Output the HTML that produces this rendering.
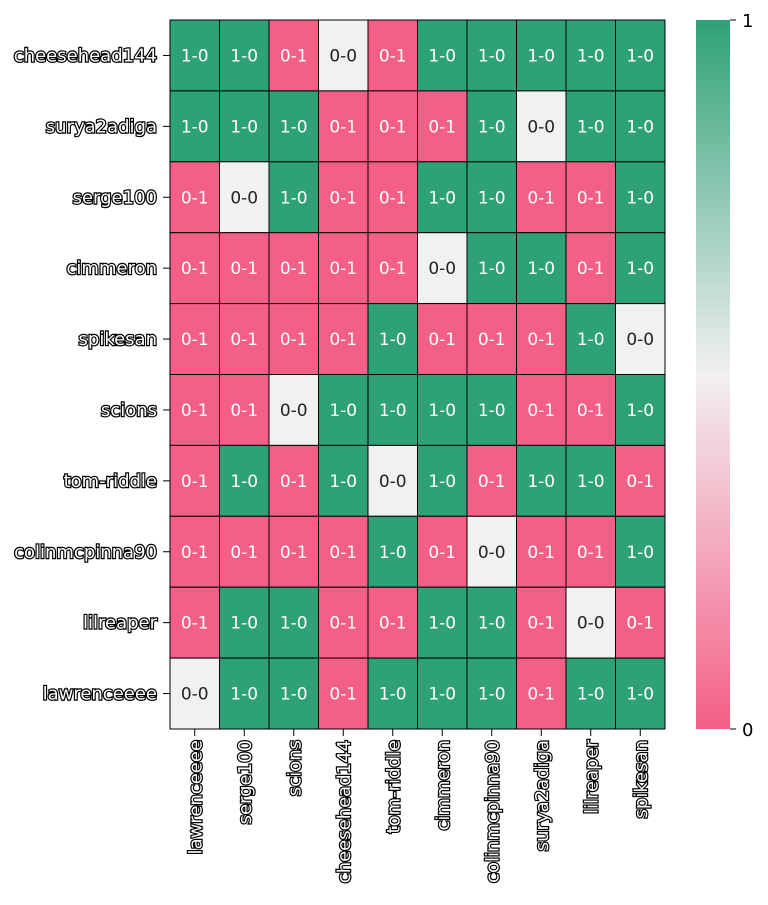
<!DOCTYPE html>
<html><head><meta charset="utf-8"><style>
body{margin:0;background:#fff}
svg text{font-family:"DejaVu Sans","Liberation Sans",sans-serif}
.lbl{fill:#fff;stroke:#000;stroke-width:2.4px;paint-order:stroke;font-size:18px}
</style></head><body>
<svg id="chart" width="768" height="900" xmlns="http://www.w3.org/2000/svg">
<defs><linearGradient id="cb" x1="0" y1="1" x2="0" y2="0">
<stop offset="0" stop-color="#f45f87"/><stop offset="0.5" stop-color="#f2f0f1"/><stop offset="1" stop-color="#2ea176"/></linearGradient></defs>
<g id="cells"></g>
<g id="ylabels"></g>
<g id="xlabels"></g>
<rect x="696" y="20" width="34" height="709" fill="url(#cb)"/>
<line x1="730" y1="20" x2="736" y2="20" stroke="#000"/>
<line x1="730" y1="729" x2="736" y2="729" stroke="#000"/>
<text x="742" y="27" font-size="18">1</text>
<text x="742" y="736" font-size="18">0</text>
</svg>
<script>
const rowLabels=["cheesehead144","surya2adiga","serge100","cimmeron","spikesan","scions","tom-riddle","colinmcpinna90","lilreaper","lawrenceeee"];
const colLabels=["lawrenceeee","serge100","scions","cheesehead144","tom-riddle","cimmeron","colinmcpinna90","surya2adiga","lilreaper","spikesan"];
const results=[
["1-0","1-0","0-1","0-0","0-1","1-0","1-0","1-0","1-0","1-0"],
["1-0","1-0","1-0","0-1","0-1","0-1","1-0","0-0","1-0","1-0"],
["0-1","0-0","1-0","0-1","0-1","1-0","1-0","0-1","0-1","1-0"],
["0-1","0-1","0-1","0-1","0-1","0-0","1-0","1-0","0-1","1-0"],
["0-1","0-1","0-1","0-1","1-0","0-1","0-1","0-1","1-0","0-0"],
["0-1","0-1","0-0","1-0","1-0","1-0","1-0","0-1","0-1","1-0"],
["0-1","1-0","0-1","1-0","0-0","1-0","0-1","1-0","1-0","0-1"],
["0-1","0-1","0-1","0-1","1-0","0-1","0-0","0-1","0-1","1-0"],
["0-1","1-0","1-0","0-1","0-1","1-0","1-0","0-1","0-0","0-1"],
["0-0","1-0","1-0","0-1","1-0","1-0","1-0","0-1","1-0","1-0"]];
const NS="http://www.w3.org/2000/svg";
const L=170,R=665,T=20,B=729;
const cw=(R-L)/colLabels.length, ch=(B-T)/rowLabels.length;
const xS=i=>L+i*cw, yS=j=>T+j*ch;
function color(r){return r==="1-0"?"#2ea176":r==="0-1"?"#f45f87":"#eff2f0";}
function mk(t,a,p){const e=document.createElementNS(NS,t);for(const k in a)e.setAttribute(k,a[k]);p.appendChild(e);return e;}
const cells=document.getElementById('cells');
results.forEach((row,j)=>row.forEach((r,i)=>{
 const rc=mk('rect',{x:xS(i),y:yS(j),width:cw,height:ch,fill:color(r),stroke:"#000","stroke-width":1},cells);
 
 
 const t=mk('text',{x:xS(i)+cw/2,y:yS(j)+ch/2+6,"text-anchor":"middle","font-size":"17",fill:r==="0-0"?"#222":"#fff"},cells);
 
 
 t.textContent=r;
}));
const yl=document.getElementById('ylabels');
rowLabels.forEach((n,j)=>{
 const y=yS(j)+ch/2;
 mk('line',{x1:L-7,y1:y,x2:L,y2:y,stroke:"#000"},yl);
 const t=mk('text',{x:L-13,y:y+6,"text-anchor":"end",class:"lbl"},yl);
 
 
 t.textContent=n;
});
const xl=document.getElementById('xlabels');
colLabels.forEach((n,i)=>{
 const x=xS(i)+cw/2;
 mk('line',{x1:x,y1:B,x2:x,y2:B+7,stroke:"#000"},xl);
 const t=mk('text',{x:0,y:0,"text-anchor":"end",class:"lbl",transform:`translate(${x+6.5},${B+11}) rotate(-90)`},xl);
 
 
 t.textContent=n;
});
</script>
</body></html>
